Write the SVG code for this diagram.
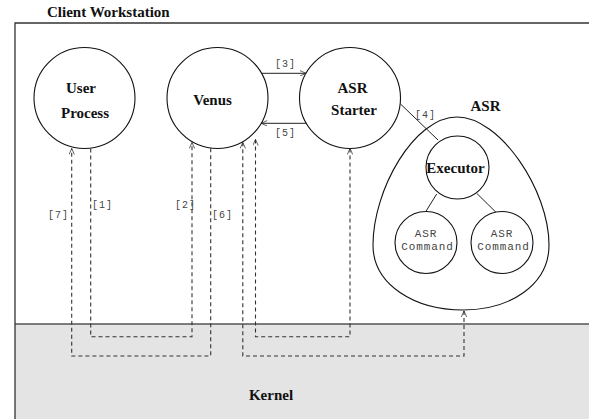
<svg xmlns="http://www.w3.org/2000/svg" width="589" height="419" viewBox="0 0 589 419">
<defs>
<marker id="arr" viewBox="0 0 10 10" refX="10" refY="5" markerWidth="8" markerHeight="6" markerUnits="userSpaceOnUse" orient="auto-start-reverse">
<path d="M0,0.5 L10,5 L0,9.5" fill="none" stroke="#222" stroke-width="1.2" stroke-dasharray="none"/>
</marker>
</defs>
<style>
.node{fill:#fff;stroke:#111;stroke-width:1.1}
.lbl{font-family:"Liberation Serif","Times New Roman",serif;font-weight:bold;font-size:15px;fill:#111;text-anchor:middle}
.mono{font-family:"Liberation Mono","Courier New",monospace;font-size:11px;letter-spacing:0.9px;fill:#444;text-anchor:middle}
.tag{font-family:"Liberation Mono","Courier New",monospace;font-size:10px;fill:#444;letter-spacing:1px}
.solid{fill:none;stroke:#222;stroke-width:1}
.dash{fill:none;stroke:#333;stroke-width:1.1;stroke-dasharray:4 3}
</style>
<rect x="0" y="0" width="589" height="419" fill="#fff"/>
<g id="workstation">
<text x="47" y="17" class="lbl" style="text-anchor:start">Client Workstation</text>
</g>
<g id="kernel">
<rect x="15" y="324" width="580" height="100" fill="#e4e4e4"/>
<line x1="15" y1="324" x2="589" y2="324" stroke="#555" stroke-width="1.3"/>
<text x="271" y="400" class="lbl">Kernel</text>
</g>
<path d="M15,425 V23 H589" fill="none" stroke="#333" stroke-width="1.3"/>
<g id="user-process">
<circle cx="84.5" cy="98" r="50.5" class="node"/>
<text x="81" y="93" class="lbl">User</text>
<text x="85" y="118" class="lbl">Process</text>
</g>
<g id="venus">
<circle cx="217.5" cy="98" r="50.5" class="node"/>
<text x="212.5" y="105" class="lbl">Venus</text>
</g>
<g id="asr-starter">
<circle cx="350" cy="98" r="50.5" class="node"/>
<text x="352.5" y="93" class="lbl">ASR</text>
<text x="354" y="115" class="lbl">Starter</text>
</g>
<g id="asr">
<path d="M457,117 C500,117 549,190 549,245 C549,285 510,310 463,310 C415,310 373,285 373,245 C373,190 414,117 457,117 Z" class="node"/>
<text x="485.5" y="111" class="lbl">ASR</text>
</g>
<g id="executor">
<circle cx="457.5" cy="167.5" r="31.5" class="node"/>
<text x="455.5" y="173" class="lbl">Executor</text>
</g>
<g id="asr-command-1">
<circle cx="426" cy="242.5" r="31" class="node"/>
<text x="426" y="236.5" class="mono">ASR</text>
<text x="427.5" y="249.5" class="mono">Command</text>
</g>
<g id="asr-command-2">
<circle cx="502" cy="242.5" r="31" class="node"/>
<text x="502" y="236.5" class="mono">ASR</text>
<text x="503.5" y="249.5" class="mono">Command</text>
</g>
<g id="connectors">
<line x1="261.7" y1="73.3" x2="306" y2="73.3" class="solid" marker-end="url(#arr)"/>
<line x1="306.3" y1="123.3" x2="261.2" y2="123.3" class="solid" marker-end="url(#arr)"/>
<line x1="400.5" y1="104" x2="438" y2="140" class="solid"/>
<line x1="436.7" y1="194" x2="425.7" y2="211.7" class="solid"/>
<line x1="476.7" y1="193.3" x2="496" y2="212.3" class="solid"/>
<path d="M90.7,148.5 V336.7 H192 V142.5" class="dash" marker-end="url(#arr)"/>
<path d="M210.7,148.3 V356 H71.7 V148.5" class="dash" marker-end="url(#arr)"/>
<path d="M350,148.5 V336.7 H255.5 V139.5" class="dash" marker-start="url(#arr)" marker-end="url(#arr)"/>
<path d="M464,311 V356 H242.8 V142.5" class="dash" marker-start="url(#arr)" marker-end="url(#arr)"/>
<text x="275" y="67" class="tag">[3]</text>
<text x="275" y="136" class="tag">[5]</text>
<text x="415" y="118" class="tag">[4]</text>
<text x="92" y="208" class="tag">[1]</text>
<text x="175" y="208" class="tag">[2]</text>
<text x="48" y="218" class="tag">[7]</text>
<text x="212" y="218" class="tag">[6]</text>
</g>
</svg>
